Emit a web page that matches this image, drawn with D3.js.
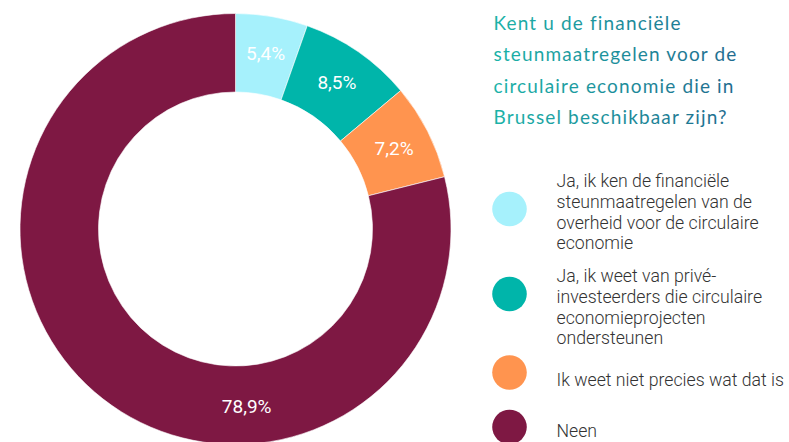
<!DOCTYPE html>
<html lang="nl">
<head>
<meta charset="utf-8">
<script src="https://cdn.jsdelivr.net/npm/d3@7"></script>
<style>
  html, body { margin: 0; padding: 0; background: #ffffff; }
  svg { display: block; }
</style>
</head>
<body>
<svg id="chart" width="789" height="442"></svg>
<script>
// Antwoordcategorieën, aandelen (%) en legendateksten
const categories = [
  "Ja, overheid",
  "Ja, privé-investeerders",
  "Weet niet precies",
  "Neen"
];
const shares = [5.4, 8.5, 7.2, 78.9];
const valueLabels = ["5,4%", "8,5%", "7,2%", "78,9%"];
const legendLines = [
  ["Ja, ik ken de financiële", "steunmaatregelen van de", "overheid voor de circulaire", "economie"],
  ["Ja, ik weet van privé-", "investeerders die circulaire", "economieprojecten", "ondersteunen"],
  ["Ik weet niet precies wat dat is"],
  ["Neen"]
];
const titleLines = [
  "Kent u de financiële",
  "steunmaatregelen voor de",
  "circulaire economie die in",
  "Brussel beschikbaar zijn?"
];
const palette = ["#a6f1fc", "#00b5aa", "#ff944f", "#7e1843"];

const svg = d3.select("#chart");

// Donut geometry
const cx = 235.5, cy = 229;
const outerR = 215.5, innerR = 137;
const labelR = 178;

const color = d3.scaleOrdinal().domain(categories).range(palette);

const pie = d3.pie()
  .sort(null)
  .value(d => d.value);

const arcs = pie(categories.map((c, i) => ({ key: c, value: shares[i], label: valueLabels[i] })));

const arc = d3.arc().innerRadius(innerR).outerRadius(outerR);

const g = svg.append("g").attr("transform", `translate(${cx},${cy})`);

g.selectAll("path.slice")
  .data(arcs)
  .join("path")
  .attr("class", "slice")
  .attr("d", arc)
  .attr("fill", d => color(d.data.key))
  .attr("stroke", "#ffffff")
  .attr("stroke-width", 0.6);

// Value labels: small slices at their middle, the dominant slice near the bottom of the ring
function labelAngle(d) {
  const span = d.endAngle - d.startAngle;
  return span > Math.PI ? Math.PI * 0.98 : (d.startAngle + d.endAngle) / 2;
}

g.selectAll("text.value")
  .data(arcs)
  .join("text")
  .attr("class", "value")
  .attr("x", d => labelR * Math.sin(labelAngle(d)))
  .attr("y", d => -labelR * Math.cos(labelAngle(d)))
  .attr("text-anchor", "middle")
  .attr("dominant-baseline", "central")
  .attr("fill", "#ffffff")
  .style("font-family", "Roboto, 'Noto Sans', sans-serif")
  .style("font-size", "19px")
  .text(d => d.data.label);

// Title with a teal-to-blue gradient
const defs = svg.append("defs");
const grad = defs.append("linearGradient")
  .attr("id", "titleGrad")
  .attr("gradientUnits", "userSpaceOnUse")
  .attr("x1", 493).attr("y1", 0)
  .attr("x2", 740).attr("y2", 0);
grad.append("stop").attr("offset", "0%").attr("stop-color", "#1bb3a8");
grad.append("stop").attr("offset", "100%").attr("stop-color", "#1f6a8e");

svg.append("g")
  .selectAll("text")
  .data(titleLines)
  .join("text")
  .attr("x", 493.5)
  .attr("y", (d, i) => 29.5 + i * 31.6)
  .attr("fill", "url(#titleGrad)")
  .style("font-family", "Lato, 'Open Sans', sans-serif")
  .style("font-size", "19px")
  .style("letter-spacing", "1.15px")
  .text(d => d);

// Legend
const legendX = 509.5, legendTextX = 556.5, legendR = 17.3, lineH = 20.7;
const legendRows = [
  { cy: 209, base: 187.3 },
  { cy: 294, base: 282.3 },
  { cy: 372.5, base: 385.7 },
  { cy: 427, base: 436.7 }
];

const legend = svg.append("g")
  .selectAll("g")
  .data(categories)
  .join("g");

legend.append("circle")
  .attr("cx", legendX)
  .attr("cy", (d, i) => legendRows[i].cy)
  .attr("r", legendR)
  .attr("fill", d => color(d));

legend.each(function(d, i) {
  d3.select(this).selectAll("text")
    .data(legendLines[i])
    .join("text")
    .attr("x", legendTextX)
    .attr("y", (t, j) => legendRows[i].base + j * lineH)
    .attr("fill", "#333333")
    .style("font-family", "Roboto, 'Noto Sans', sans-serif")
    .style("font-weight", 300)
    .style("font-size", "17.7px")
    .text(t => t);
});
</script>
</body>
</html>
